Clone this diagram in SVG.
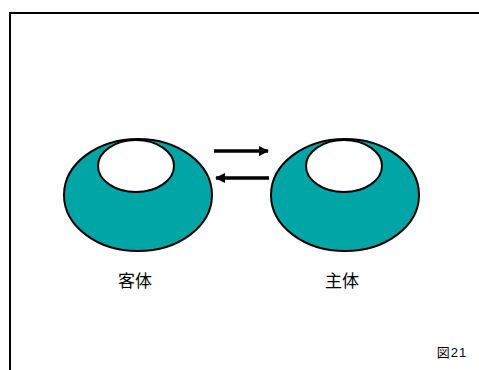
<svg xmlns="http://www.w3.org/2000/svg" width="479" height="370" viewBox="0 0 479 370">
<style>
.outer{fill:#00a6a6;stroke:#000;stroke-width:2}
.inner{fill:#fff;stroke:#000;stroke-width:2}
.lbl{font-family:"Noto Sans CJK JP","Noto Sans",sans-serif;font-size:17px;fill:#000;text-anchor:middle}
.arr{stroke:#000;stroke-width:3.5;fill:none}
</style>
<defs>
<marker id="ah" viewBox="0 0 10 10" refX="9" refY="5" markerWidth="3" markerHeight="3" orient="auto-start-reverse" markerUnits="strokeWidth">
<path d="M0,0 L10,5 L0,10 z" fill="#000"/>
</marker>
</defs>
<rect width="479" height="370" fill="#fff"/>
<path d="M10,370 V13 H479" fill="none" stroke="#000" stroke-width="2"/>
<g id="kyakutai">
<ellipse class="outer" cx="138" cy="195" rx="74" ry="56"/>
<ellipse class="inner" cx="136" cy="166" rx="38" ry="26"/>
<text class="lbl" x="135" y="287">客体</text>
</g>
<g id="shutai">
<ellipse class="outer" cx="345" cy="195" rx="74" ry="56"/>
<ellipse class="inner" cx="344" cy="166" rx="38" ry="26"/>
<text class="lbl" x="342" y="287">主体</text>
</g>
<g id="connectors">
<line class="arr" x1="214" y1="151" x2="268" y2="151" marker-end="url(#ah)"/>
<line class="arr" x1="269" y1="178" x2="216" y2="178" marker-end="url(#ah)"/>
</g>
<text x="452" y="357" font-family="'Liberation Sans','Noto Sans CJK JP',sans-serif" font-size="13" letter-spacing="1" text-anchor="middle">図21</text>
</svg>
